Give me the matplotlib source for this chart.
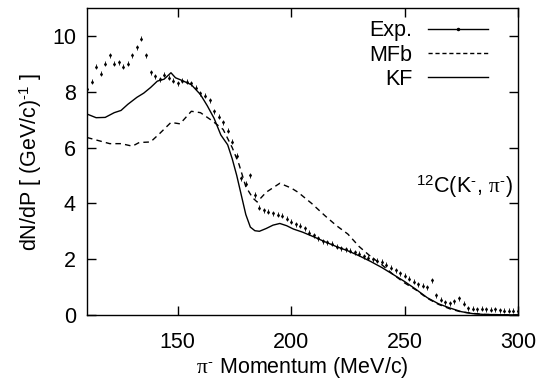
import matplotlib
matplotlib.use('Agg')
import matplotlib.pyplot as plt
from matplotlib.lines import Line2D
import numpy as np

plt.rcParams['font.family'] = ['Liberation Sans', 'DejaVu Sans']
plt.rcParams['mathtext.fontset'] = 'custom'
plt.rcParams['mathtext.rm'] = 'Liberation Sans'
plt.rcParams['mathtext.it'] = 'Liberation Serif'
plt.rcParams['mathtext.bf'] = 'Liberation Sans:bold'

# experimental spectrum, 2 MeV/c bins from 110 to 300
exp_p = np.arange(110, 301, 2)
exp_y = [8.1, 8.35, 8.9, 8.65, 9.0, 9.3, 9.0, 9.05, 8.9, 9.0,
         9.3, 9.6, 9.9, 9.3, 8.7, 8.55, 8.45, 8.6, 8.5, 8.4,
         8.3, 8.4, 8.35, 8.3, 8.15, 7.95, 7.85, 7.7, 7.3, 7.1,
         6.9, 6.6, 6.2, 5.7, 4.9, 4.7, 5.0, 4.3, 3.85, 3.75,
         3.7, 3.65, 3.6, 3.55, 3.45, 3.35, 3.25, 3.2, 3.1, 2.95,
         2.85, 2.75, 2.65, 2.6, 2.55, 2.45, 2.4, 2.35, 2.3, 2.25,
         2.2, 2.1, 2.05, 2.0, 1.95, 1.9, 1.8, 1.7, 1.6, 1.5,
         1.4, 1.3, 1.2, 1.1, 1.05, 1.0, 1.25, 0.7, 0.55, 0.45,
         0.42, 0.5, 0.6, 0.4, 0.25, 0.22, 0.2, 0.22, 0.2, 0.18,
         0.2, 0.17, 0.15, 0.16, 0.15, 0.14]
exp_err = 0.09

# KF calculation
kf_p = [110, 114, 118, 122, 125, 128, 132, 135, 138, 141, 144, 147, 149,
        152, 156, 160, 163, 166, 169, 172, 174, 176, 178, 180, 182, 184,
        186, 189, 192, 195, 198, 201, 205, 210, 215, 220, 225, 230, 235,
        240, 245, 250, 255, 260, 265, 270, 275, 280, 285, 300]
kf_y = [7.2, 7.07, 7.08, 7.25, 7.33, 7.55, 7.8, 7.95, 8.15, 8.38, 8.45, 8.68, 8.5,
        8.4, 8.25, 7.9, 7.5, 7.05, 6.45, 6.1, 5.6, 5.0, 4.3, 3.6, 3.15, 3.02,
        3.0, 3.1, 3.22, 3.28, 3.2, 3.08, 2.97, 2.8, 2.62, 2.45, 2.3, 2.12, 1.92,
        1.7, 1.45, 1.2, 0.92, 0.62, 0.4, 0.25, 0.12, 0.05, 0.02, 0.0]

# MFb calculation
mf_p = [110, 115, 120, 125, 130, 133, 138, 142, 147, 151, 156, 160, 165,
        170, 174, 177, 180, 183, 185, 189, 195, 200, 203, 209, 215, 220,
        225, 230, 235, 240, 245, 250, 255, 260, 265, 270, 275, 280, 285, 300]
mf_y = [6.36, 6.25, 6.14, 6.14, 6.05, 6.18, 6.2, 6.5, 6.9, 6.85, 7.3, 7.25, 6.97,
        6.65, 6.0, 5.4, 4.6, 4.2, 4.05, 4.4, 4.72, 4.55, 4.4, 4.0, 3.55, 3.2,
        2.9, 2.45, 2.1, 1.8, 1.45, 1.15, 0.9, 0.6, 0.38, 0.22, 0.11, 0.06, 0.02, 0.0]

fig = plt.figure(figsize=(5.6, 3.81), dpi=100)
ax = fig.add_axes([0.1554, 0.1732, 0.7696, 0.8058])

ax.errorbar(exp_p, exp_y, yerr=exp_err, fmt='.', color='k', markersize=2,
            elinewidth=0.6, capsize=0)
ax.plot(mf_p, mf_y, color='k', lw=1, dashes=(4, 3))
ax.plot(kf_p, kf_y, color='k', lw=1)

ax.set_xlim(110, 300)
ax.set_ylim(0, 11)
ax.set_xticks([150, 200, 250, 300])
ax.set_yticks([0, 2, 4, 6, 8, 10])
ax.tick_params(direction='in', length=6.5, width=1, top=True, right=True,
               labelsize=15.5)
ax.tick_params(axis='x', pad=12)
ax.tick_params(axis='y', pad=8)
for s in ax.spines.values():
    s.set_linewidth(1)

ax.set_xlabel(r'$\pi^{\text{-}}$ Momentum (MeV/c)', fontsize=15.5, labelpad=2)
ax.set_ylabel(r'dN/dP [ (GeV/c)$^{\text{-}1}$ ]', fontsize=15.5, labelpad=6)

ax.text(298, 4.6, r'$^{12}$C(K$^{\text{-}}$, $\pi^{\text{-}}$)', fontsize=15.5,
        ha='right', va='center')

handles = [Line2D([], [], color='k', lw=1, marker='.', markersize=3),
           Line2D([], [], color='k', lw=1, dashes=(3, 2)),
           Line2D([], [], color='k', lw=1)]
ax.legend(handles, ['Exp.', 'MFb', 'KF'], loc='upper right', frameon=False,
          markerfirst=False, numpoints=1, fontsize=15.5, handlelength=2.8,
          handletextpad=0.7, labelspacing=0.15, borderaxespad=0.1,
          bbox_to_anchor=(0.955, 0.995))

fig.savefig('out.png', dpi=100)
